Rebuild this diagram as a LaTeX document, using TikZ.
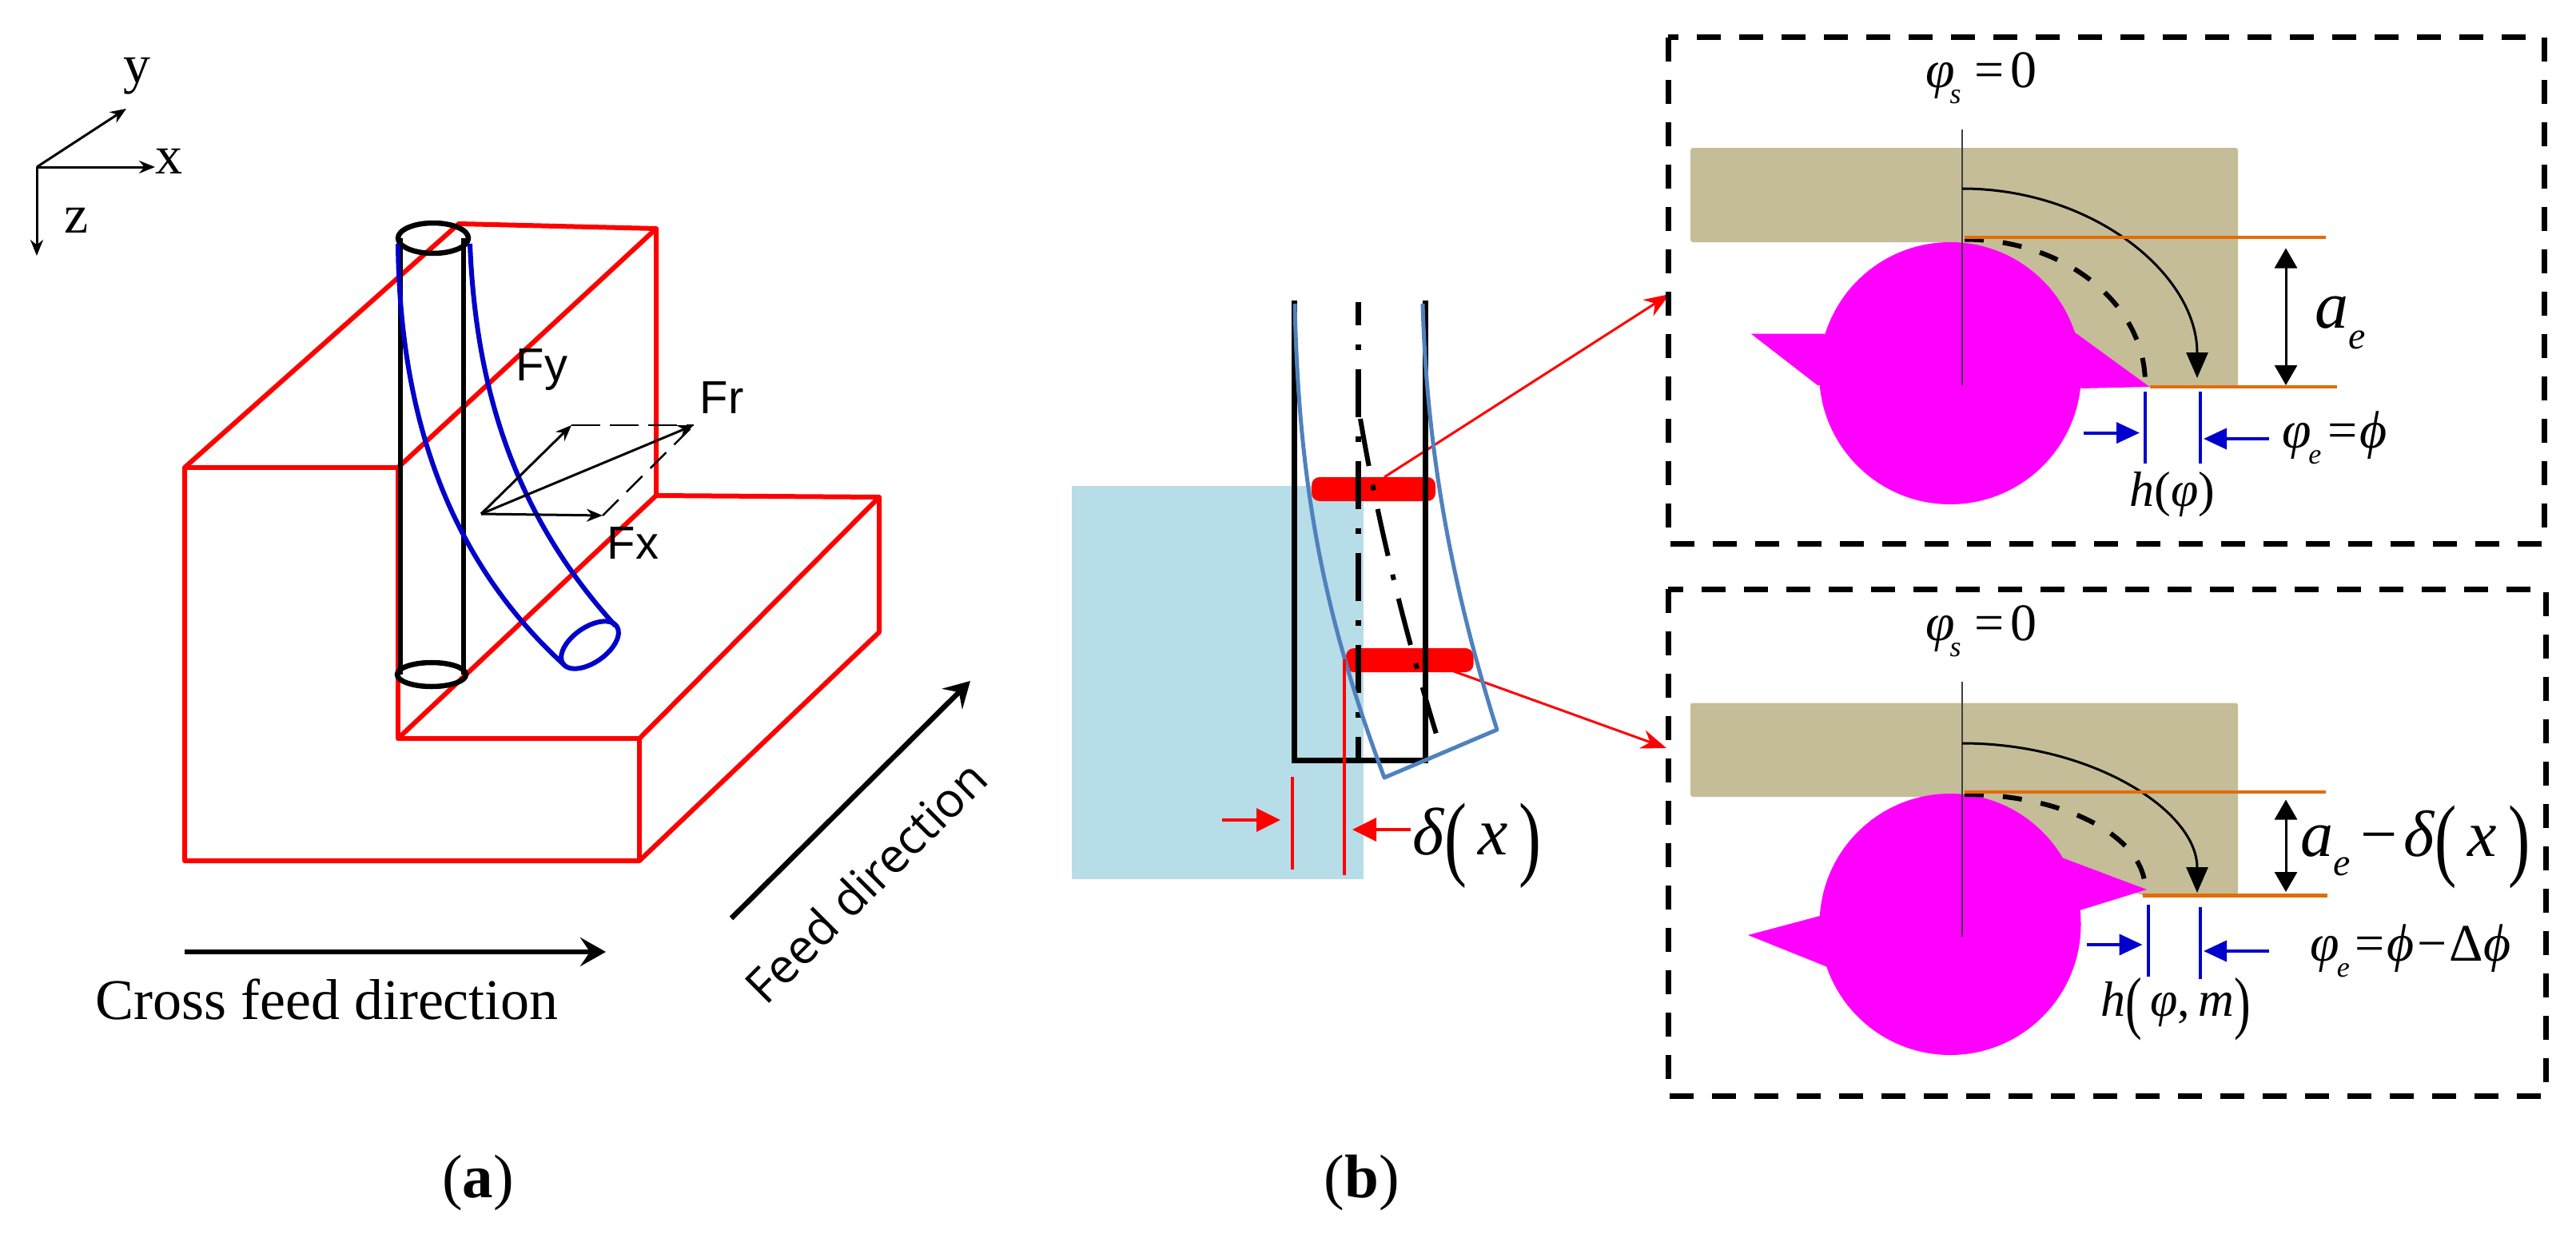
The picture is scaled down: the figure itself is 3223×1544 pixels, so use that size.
\documentclass[tikz,border=0pt]{standalone}
\usepackage{fontspec}
\usepackage{graphicx}
\setmainfont{Liberation Serif}
\newfontfamily\arialf{Liberation Sans}
\newfontfamily\humanf{Open Sans}
\usetikzlibrary{arrows.meta}
\definecolor{redl}{HTML}{FF0000}
\definecolor{toolblue}{HTML}{0000C8}
\definecolor{softblue}{HTML}{4F81BD}
\definecolor{pale}{HTML}{B7DDE8}
\definecolor{tanw}{HTML}{C4BD97}
\definecolor{orangel}{HTML}{E36C0A}
\definecolor{dimblue}{HTML}{0000CC}
\definecolor{cutmag}{RGB}{255,0,255}
\newcommand{\fsz}[1]{\fontsize{#1}{#1}\selectfont}
\newcommand{\lowsub}[2]{\raisebox{-.3em}{\fsz{#1}\itshape #2}}
\newcommand{\tallp}[1]{\raisebox{-.2em}{\scalebox{1}[1.4]{#1}}}
\tikzset{
  x=1pt,y=-1pt,
  every node/.style={inner sep=0pt,outer sep=0pt},
  wp/.style={draw=redl,line width=6pt,line join=round},
  cyl/.style={draw=black,line width=6.5pt},
  bent/.style={draw=toolblue,line width=6pt},
  thin arrow/.style={draw=black,line width=3pt,-{Stealth[length=20pt,width=16pt]}},
  feed arrow/.style={draw=black,line width=6.5pt,-{Stealth[length=32pt,width=36pt,inset=12pt]}},
  sans label/.style={font=\arialf\fsz{58}},
  axis label/.style={font=\fsz{68}},
  panel/.style={draw=black,line width=7pt,dash pattern=on 30pt off 23pt},
  cutter/.style={fill=cutmag},
  orange line/.style={draw=orangel,line width=4.5pt},
  dim black/.style={draw=black,line width=3pt,{Triangle[length=25pt,width=28pt]}-{Triangle[length=25pt,width=28pt]}},
  sweep/.style={draw=black,line width=3pt,-{Triangle[length=32pt,width=27pt]}},
  sweep dash/.style={draw=black,line width=6pt,dash pattern=on 24pt off 24pt},
  dim blue/.style={draw=dimblue,line width=4pt,-{Triangle[length=29pt,width=26pt]}},
  blue tick/.style={draw=dimblue,line width=3.5pt},
  red tick/.style={draw=redl,line width=3.5pt},
  red dim/.style={draw=redl,line width=3.5pt,-{Triangle[length=30pt,width=29pt]}},
  red lead/.style={draw=redl,line width=3pt,-{Stealth[length=32pt,width=24pt]}},
  centre dash/.style={draw=black,line width=7pt,dash pattern=on 60pt off 24pt on 7pt off 24pt,dash phase=31pt},
  eq/.style={font=\fsz{66}},
}
\begin{document}
\begin{tikzpicture}
\useasboundingbox (0,0) rectangle (3223,1544);
% axes (a)
\coordinate (O) at (46,209);
\coordinate (ytip) at (158,136);
\coordinate (xtip) at (194,209);
\coordinate (ztip) at (46,320);
\draw[thin arrow] (O) -- (ytip);
\draw[thin arrow] (O) -- (xtip);
\draw[thin arrow] (O) -- (ztip);
\node[axis label] (ylab) at (171,95) {y};
\node[axis label] (xlab) at (211,202) {x};
\node[axis label] (zlab) at (96,276) {z};
% workpiece
\draw[wp] (231,585) -- (574,280) -- (821,286) -- (821,620) -- (1100,622) -- (1100,791) -- (800,1077) -- (231,1077) -- cycle;
\draw[wp] (231,585) -- (498,585) -- (498,924) -- (800,924) -- (800,1077);
\draw[wp] (498,585) -- (821,286);
\draw[wp] (498,924) -- (821,620);
\draw[wp] (800,924) -- (1100,622);
% straight tool
\draw[cyl] (501,298) -- (501,844);
\draw[cyl] (580,298) -- (580,844);
\draw[cyl] (542,298) ellipse [x radius=44,y radius=19];
\draw[cyl] (540,844) ellipse [x radius=43,y radius=15];
% bent tool
\draw[bent] (498,305) .. controls (500,500) and (550,690) .. (706,832);
\draw[bent] (588,305) .. controls (595,480) and (640,640) .. (770,783);
\draw[bent,rotate around={35:(738,807)}] (738,807) ellipse [x radius=41,y radius=22];
% forces
\coordinate (F0) at (602,643);
\coordinate (Fyt) at (715,532);
\coordinate (Frt) at (868,532);
\coordinate (Fxt) at (754,645);
\draw[thin arrow] (F0) -- (Fyt);
\draw[thin arrow] (F0) -- (Frt);
\draw[thin arrow] (F0) -- (Fxt);
\draw[draw=black,line width=2.5pt,dash pattern=on 36pt off 12pt] (Fyt) -- (Frt);
\draw[draw=black,line width=2.5pt,dash pattern=on 28pt off 14pt] (Fxt) -- (Frt);
\node[sans label] (fy) at (678,463) {Fy};
\node[sans label] (fr) at (903,498) {Fr};
\node[sans label] (fx) at (792,680) {Fx};
% feed arrows
\coordinate (c1) at (231,1191);
\coordinate (c2) at (758,1191);
\draw[feed arrow] (c1) -- (c2);
\node[font=\fsz{72}] (crosslab) at (409,1250) {Cross feed direction};
\coordinate (f1) at (915,1149);
\coordinate (f2) at (1214,852);
\draw[feed arrow] (f1) -- (f2);
\node[font=\humanf\fsz{60},rotate=45] (feedlab) at (1083,1103) {Feed direction};
\node[font=\fsz{77}] (la) at (598,1480) {(\textbf{a})};
\node[font=\fsz{77}] (lb) at (1704,1480) {(\textbf{b})};
% middle view
\fill[pale] (1340.5,608) rectangle (1706,1100);
\coordinate (u1) at (1732,597);
\coordinate (u2) at (2089,368);
\coordinate (l1) at (1819,840);
\coordinate (l2) at (2085,936);
\draw[red lead] (u1) -- (u2);
\draw[red lead] (l1) -- (l2);
\fill[redl,rounded corners=10pt] (1641,597) rectangle (1796,627);
\fill[redl,rounded corners=10pt] (1684,811) rectangle (1843.5,841);
\draw[black,line width=7pt] (1619,376) -- (1619,951.5) -- (1783,951.5) -- (1783,376);
\draw[centre dash] (1699,377.5) -- (1699,949);
\draw[draw=black,line width=6pt,dash pattern=on 60pt off 24pt on 7pt off 24pt] (1702,524) .. controls (1725,660) and (1760,800) .. (1804,941);
\draw[softblue,line width=5pt,line join=round] (1620,380) .. controls (1625,620) and (1660,780) .. (1732,973) -- (1873,913) .. controls (1815,730) and (1785,560) .. (1780,380);
\draw[red tick] (1617,972) -- (1617,1088);
\draw[red tick] (1682,825) -- (1682,1095);
\coordinate (d1) at (1529,1026);
\coordinate (d2) at (1602,1026);
\coordinate (d3) at (1765,1038);
\coordinate (d4) at (1692,1038);
\draw[red dim] (d1) -- (d2);
\draw[red dim] (d3) -- (d4);
\node[font=\fsz{84}] (dx) at (1848,1058) {\textit{δ}\tallp{(}\,\textit{x}\,\tallp{)}};
% top panel
\draw[panel] (2087,47) rectangle (3183,680);
\fill[tanw,rounded corners=3pt] (2115,185) -- (2800,185) -- (2800,484) -- (2440,484) -- (2440,303) -- (2115,303) -- cycle;
\fill[cutter] (2440,467) circle [radius=164];
\fill[cutter] (2596,416) -- (2689.5,484) -- (2603.5,486) -- cycle;
\fill[cutter] (2283,417.5) -- (2190.6,417.5) -- (2274,482) -- (2300,482) -- cycle;
\draw[draw=black!75,line width=2.5pt] (2455,162) -- (2455,482);
\draw[sweep] (2455,236) .. controls (2617,236) and (2749,342) .. (2749,473);
\draw[sweep dash] (2458,299.5) .. controls (2583,299.5) and (2684,380) .. (2684,480);
\draw[orange line] (2458,297) -- (2910,297);
\draw[orange line] (2689.5,484) -- (2923.6,484);
\coordinate (ta1) at (2860,310.5);
\coordinate (ta2) at (2860,482);
\draw[dim black] (ta1) -- (ta2);
\draw[blue tick] (2684,490) -- (2684,580);
\draw[blue tick] (2753,490) -- (2753,580);
\coordinate (tb1) at (2607,541.6);
\coordinate (tb2) at (2677,541.6);
\coordinate (tb3) at (2839,549);
\coordinate (tb4) at (2757,549);
\draw[dim blue] (tb1) -- (tb2);
\draw[dim blue] (tb3) -- (tb4);
\node[eq] (ts) at (2479,98) {\textit{φ}\kern-.1em\lowsub{36}{s}\kern.25em=\kern.12em0};
\node[font=\fsz{84}] (tae) at (2928,404) {\textit{a}\lowsub{48}{e}};
\node[eq] (tee) at (2921,548) {\textit{φ}\kern-.05em\lowsub{36}{e}\kern.12em=\kern.05em\textit{ϕ}};
\node[font=\fsz{62}] (th) at (2718,619) {\textit{h}(\textit{φ})};
% bottom panel
\draw[panel] (2087,737) rectangle (3185,1371);
\fill[tanw,rounded corners=3pt] (2115,879.5) -- (2800,879.5) -- (2800,1120) -- (2680,1120) -- (2590,1090) -- (2440,1090) -- (2440,997) -- (2115,997) -- cycle;
\fill[cutter] (2440,1156.5) circle [radius=163.5];
\fill[cutter] (2579.5,1073) -- (2686,1113) -- (2602,1139) -- cycle;
\fill[cutter] (2277,1146) -- (2187,1170) -- (2285.6,1209.6) -- (2300,1209) -- cycle;
\draw[draw=black!75,line width=2.5pt] (2455,853) -- (2455,1172);
\draw[sweep] (2455,930) .. controls (2617,930) and (2749,1014) .. (2749,1117);
\draw[sweep dash] (2458,994) .. controls (2583,994) and (2684,1047) .. (2684,1113);
\draw[orange line] (2458,991) -- (2910,991);
\draw[orange line] (2680.5,1120.6) -- (2911.6,1120.6);
\coordinate (ba1) at (2860,1000.5);
\coordinate (ba2) at (2860,1116);
\draw[dim black] (ba1) -- (ba2);
\draw[blue tick] (2688,1131.6) -- (2688,1221.5);
\draw[blue tick] (2753,1135) -- (2753,1225);
\coordinate (bb1) at (2611,1182);
\coordinate (bb2) at (2680.5,1182);
\coordinate (bb3) at (2839,1190);
\coordinate (bb4) at (2757,1190);
\draw[dim blue] (bb1) -- (bb2);
\draw[dim blue] (bb3) -- (bb4);
\node[eq] (bs) at (2479,790) {\textit{φ}\kern-.1em\lowsub{36}{s}\kern.25em=\kern.12em0};
\node[font=\fsz{82}] (bae) at (3022,1060) {\textit{a}\lowsub{48}{e}\kern.15em−\kern.1em\textit{δ}\tallp{(}\,\textit{x}\,\tallp{)}};
\node[eq] (bee) at (3016,1190) {\textit{φ}\kern-.05em\lowsub{36}{e}\kern.1em=\kern.05em\textit{ϕ}\kern.05em−\kern.05emΔ\textit{ϕ}};
\node[font=\fsz{62}] (bh) at (2722,1263) {\textit{h}\tallp{(}\,\textit{φ},\,\textit{m}\tallp{)}};
\end{tikzpicture}
\end{document}
